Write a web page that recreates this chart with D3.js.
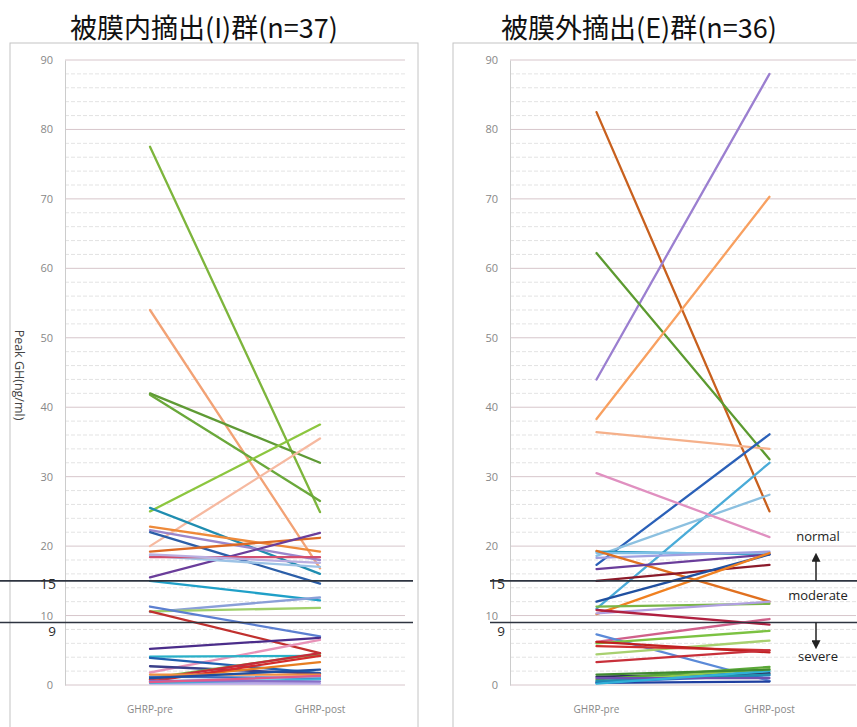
<!DOCTYPE html>
<html>
<head>
<meta charset="utf-8">
<script src="https://cdn.jsdelivr.net/npm/d3@7"></script>
<style>
  body { margin: 0; background: #fff; }
  svg { display: block; font-family: "Noto Sans CJK JP", "Noto Sans", sans-serif; }
  .tick text { fill: #888; font-size: 11px; font-family: "Open Sans", "Noto Sans", sans-serif; }
  .xlab { fill: #888; font-size: 10px; font-family: "Open Sans", "Noto Sans", sans-serif; }
</style>
</head>
<body>
<div id="chart"></div>
<script>
const WIDTH = 857
const HEIGHT = 727

// datos
const categories = ["GHRP-pre", "GHRP-post"]
const yTicks = [0, 10, 20, 30, 40, 50, 60, 70, 80, 90]
const cutoffs = [15, 9]

// Grupo I (n=37)
const iPre  = [77.5, 54.0, 42.0, 41.8, 25.0, 20.0, 25.5, 22.8, 22.3, 22.0, 19.2, 15.5, 18.6, 18.4, 18.8,
               15.0, 10.5, 10.6, 11.3, 10.6, 5.2, 1.8, 4.1, 3.9, 2.7, 1.0, 0.8, 0.5, 0.8, 1.2,
               0.5, 0.2, 1.5, 1.0, 0.3, 0.6, 0.4]
const iPost = [24.9, 16.8, 32.0, 26.5, 37.5, 35.5, 16.0, 19.2, 18.0, 14.6, 21.2, 21.9, 17.0, 18.4, 17.6,
               12.2, 12.6, 11.1, 7.0, 4.6, 6.8, 6.5, 4.2, 1.7, 1.6, 4.5, 3.3, 4.2, 4.6, 1.0,
               1.2, 0.2, 1.5, 2.2, 0.8, 0.5, 1.3]

// Grupo E (n=36)
const ePre  = [82.5, 44.0, 62.2, 38.3, 36.4, 17.3, 11.0, 18.6, 30.5, 19.2, 19.0, 18.3, 19.3, 16.7, 15.0,
               12.0, 10.2, 11.3, 10.3, 10.8, 6.2, 7.3, 6.0, 4.4, 5.6, 6.2, 3.3, 1.2, 0.8, 0.5,
               0.4, 0.3, 0.6, 1.0, 0.2, 1.5]
const ePost = [25.0, 88.0, 32.5, 70.3, 34.0, 36.1, 32.0, 27.4, 21.3, 18.8, 19.0, 19.2, 12.0, 18.8, 17.3,
               18.8, 19.0, 11.7, 12.0, 8.7, 9.5, 0.6, 7.8, 6.4, 5.0, 4.7, 5.0, 1.7, 2.6, 2.3,
               1.4, 0.5, 1.5, 1.0, 2.0, 2.2]

// colores
const iColors = ["#7db53c", "#f2a275", "#5f9a35", "#6aa83a", "#8cc63f", "#f6b9a0", "#1f8db0", "#ee8a3a",
                 "#9a86cc", "#2b5ea8", "#dd6a25", "#6a3d9a", "#9dc3e6", "#d24f70", "#b9aee0",
                 "#1fa0c8", "#8a9fd8", "#9fcf6a", "#5b7fd0", "#c0302e", "#4b2d8a", "#e893b8", "#2ab0c8",
                 "#2060b0", "#3a3f8a", "#7ab648", "#e67e22", "#d42c2c", "#c62a3a", "#3a6fc0",
                 "#7fb8e0", "#b8a8e8", "#f09040", "#1f4fa0", "#40b8d8", "#8a70c8", "#e05a8a"]
const eColors = ["#c8601e", "#9b7fd0", "#5c9a30", "#f8a060", "#f5b08a", "#2a60b8", "#4aabd8", "#8cc0e0",
                 "#e090c0", "#2c9ac0", "#7fc0e8", "#a0a0e0", "#e07020", "#6a3d9a", "#8b1a2a",
                 "#2050a0", "#f08020", "#7ab648", "#b0a0e0", "#b02040", "#d0608a", "#5b8ad8", "#7cc242",
                 "#a8d070", "#d03030", "#c02020", "#c8303a", "#303060", "#5aa838", "#90c850",
                 "#3070c8", "#1f3f9f", "#2090b0", "#7050b0", "#30b0d8", "#408a30"]

const svg = d3.select('#chart')
    .append('svg')
        .attr('width', WIDTH)
        .attr('height', HEIGHT)

const y = d3.scaleLinear().domain([0, 90]).range([685, 60])

function drawPanel(p) {
    // marco
    svg.append('rect')
        .attr('x', p.frameX).attr('y', 43)
        .attr('width', p.frameW).attr('height', 700)
        .attr('fill', 'none').attr('stroke', '#c4c4c4').attr('stroke-width', 1)

    // titulo
    svg.append('text')
        .attr('x', p.titleX).attr('y', 38)
        .attr('text-anchor', 'middle')
        .style('font-size', '27px').style('fill', '#111')
        .text(p.title)

    const g = svg.append('g')

    // lineas de grilla menores cada 2
    const minor = d3.range(2, 90, 2).filter(v => v % 10 !== 0)
    g.selectAll('.minor').data(minor).enter().append('line')
        .attr('x1', p.left).attr('x2', p.right)
        .attr('y1', d => y(d)).attr('y2', d => y(d))
        .attr('stroke', '#dcdcdc').attr('stroke-width', 0.8)
        .attr('stroke-dasharray', '4,2')

    g.selectAll('.major').data(yTicks).enter().append('line')
        .attr('x1', p.left).attr('x2', p.right)
        .attr('y1', d => y(d)).attr('y2', d => y(d))
        .attr('stroke', '#d7c6cb').attr('stroke-width', 1)

    // eje y
    const axis = g.append('g')
        .attr('transform', `translate(${p.left},0)`)
        .call(d3.axisLeft(y).tickValues(yTicks).tickSize(0).tickPadding(12))
    axis.select('.domain').attr('stroke', '#ccc')

    // eje x
    const x = d3.scalePoint().domain(categories).range([p.left, p.right]).padding(0.5)
    g.selectAll('.xlab').data(categories).enter().append('text')
        .attr('class', 'xlab')
        .attr('x', d => x(d)).attr('y', 713)
        .attr('text-anchor', 'middle')
        .text(d => d)

    // lineas de pacientes
    const pairs = p.pre.map((v, i) => [v, p.post[i]])
    const line = d3.line().x((d, i) => x(categories[i])).y(d => y(d))
    g.selectAll('.pat').data(pairs).enter().append('path')
        .attr('d', d => line(d))
        .attr('fill', 'none')
        .attr('stroke', (d, i) => p.colors[i])
        .attr('stroke-width', 2.3)
        .attr('stroke-linecap', 'round')

    // lineas de corte 15 y 9
    g.selectAll('.cut').data(cutoffs).enter().append('line')
        .attr('x1', p.cutX1).attr('x2', p.cutX2)
        .attr('y1', d => y(d)).attr('y2', d => y(d))
        .attr('stroke', '#2e3440').attr('stroke-width', 1.6)

    // el 9 va un poco mas abajo para no pisar el 10
    g.selectAll('.cutlab').data(cutoffs).enter().append('text')
        .attr('x', p.cutLabX).attr('y', d => y(d) + (d === 9 ? 13 : 8))
        .attr('text-anchor', 'end')
        .style('font-size', d => d === 9 ? '13.5px' : '14px').style('fill', '#2a2a2a')
        .style('font-family', '"Open Sans", sans-serif')
        .text(d => d)

    return x
}

drawPanel({
    frameX: 10, frameW: 408, titleX: 204, title: '被膜内摘出(I)群(n=37)',
    left: 65, right: 405, cutX1: 0, cutX2: 413, cutLabX: 56,
    pre: iPre, post: iPost, colors: iColors
})

drawPanel({
    frameX: 453, frameW: 420, titleX: 639, title: '被膜外摘出(E)群(n=36)',
    left: 510, right: 856, cutX1: 490, cutX2: 857, cutLabX: 505,
    pre: ePre, post: ePost, colors: eColors
})

// titulo del eje y
svg.append('text')
    .attr('transform', `translate(15, 375) rotate(90)`)
    .attr('text-anchor', 'middle')
    .style('font-size', '12.5px').style('fill', '#444')
    .style('font-family', '"Open Sans", sans-serif')
    .text('Peak GH(ng/ml)')

// anotaciones
const notes = [{t: 'normal', v: 20.7}, {t: 'moderate', v: 12.2}, {t: 'severe', v: 3.5}]
svg.selectAll('.note').data(notes).enter().append('text')
    .attr('x', 818).attr('y', d => y(d.v))
    .attr('text-anchor', 'middle')
    .style('font-size', '13px').style('fill', '#222')
    .style('font-family', '"Open Sans", sans-serif')
    .text(d => d.t)

svg.append('defs').append('marker')
    .attr('id', 'arr').attr('viewBox', '0 0 10 10')
    .attr('refX', 5).attr('refY', 5)
    .attr('markerWidth', 6).attr('markerHeight', 6)
    .attr('orient', 'auto-start-reverse')
  .append('path').attr('d', 'M0,0L10,5L0,10z').attr('fill', '#222')

svg.append('line')
    .attr('x1', 816).attr('x2', 816).attr('y1', y(15)).attr('y2', y(18.4))
    .attr('stroke', '#222').attr('stroke-width', 1.5).attr('marker-end', 'url(#arr)')
svg.append('line')
    .attr('x1', 816).attr('x2', 816).attr('y1', y(9)).attr('y2', y(5.8))
    .attr('stroke', '#222').attr('stroke-width', 1.5).attr('marker-end', 'url(#arr)')
</script>
</body>
</html>
